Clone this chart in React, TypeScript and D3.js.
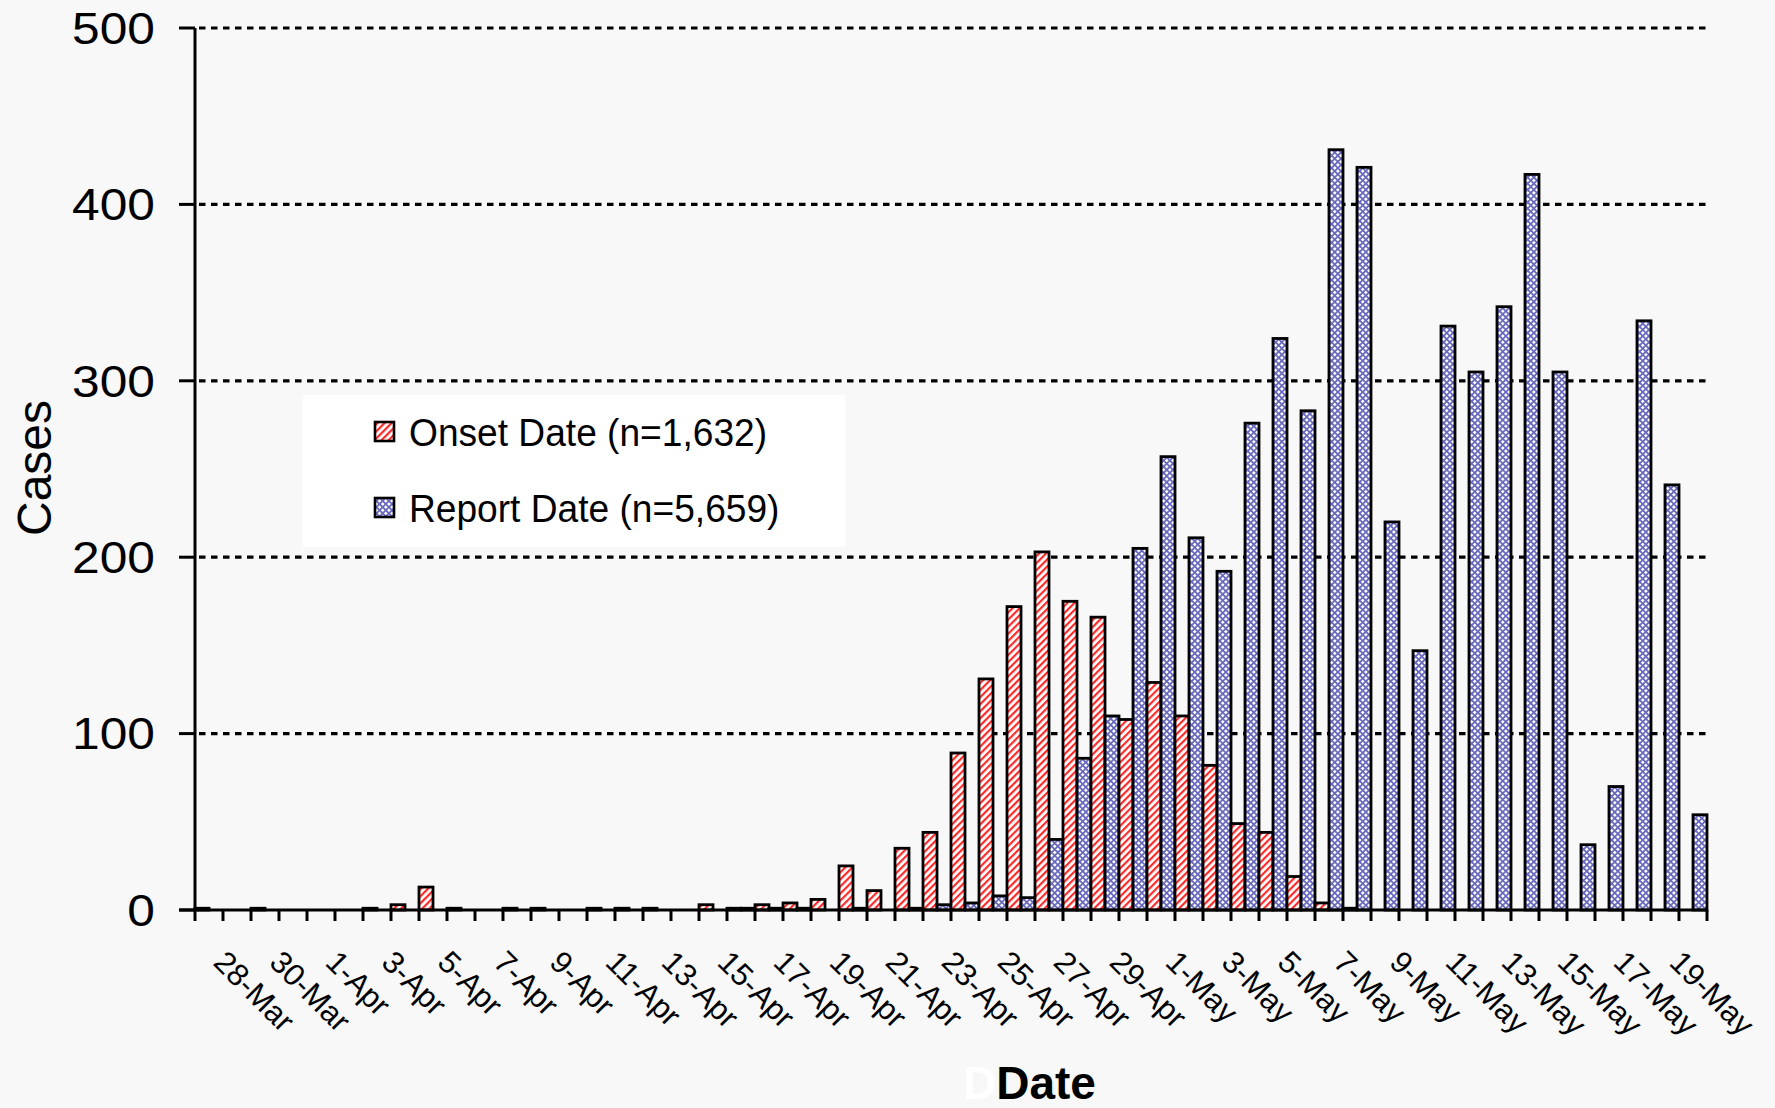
import React from "react";
import * as d3 from "d3";

const dates = [
  "27-Mar","28-Mar","29-Mar","30-Mar","31-Mar",
  "1-Apr","2-Apr","3-Apr","4-Apr","5-Apr","6-Apr","7-Apr","8-Apr","9-Apr","10-Apr",
  "11-Apr","12-Apr","13-Apr","14-Apr","15-Apr","16-Apr","17-Apr","18-Apr","19-Apr","20-Apr",
  "21-Apr","22-Apr","23-Apr","24-Apr","25-Apr","26-Apr","27-Apr","28-Apr","29-Apr","30-Apr",
  "1-May","2-May","3-May","4-May","5-May","6-May","7-May","8-May","9-May","10-May",
  "11-May","12-May","13-May","14-May","15-May","16-May","17-May","18-May","19-May",
];

const onset = [
  1,0,1,0,0,
  0,1,3,13,1,0,1,1,0,1,
  1,1,0,3,1,3,4,6,25,11,
  35,44,89,131,172,203,175,166,108,129,
  110,82,49,44,19,4,1,0,0,0,
  0,0,0,0,0,0,0,0,0,
];

const report = [
  0,0,0,0,0,
  0,0,0,0,0,0,0,0,0,0,
  0,0,0,0,1,1,1,0,1,0,
  1,3,4,8,7,40,86,110,205,257,
  211,192,276,324,283,431,421,220,147,331,
  305,342,417,305,37,70,334,241,54,
];

const yTicks = [0, 100, 200, 300, 400, 500];
const labelDates = dates.filter((_, i) => i % 2 === 1);
const seriesNames = ["Onset Date (n=1,632)", "Report Date (n=5,659)"];

const W = 1775;
const H = 1108;
const FONT = "'Liberation Sans', Arial, Helvetica, sans-serif";

export default function App() {
  const x = d3.scaleBand<string>().domain(dates).range([195, 1707]).padding(0);
  const y = d3.scaleLinear().domain([0, 500]).range([910, 28]);
  const bw = x.bandwidth();
  const half = bw / 2;

  const fills = ["url(#hatchRed)", "url(#crossBlue)"];

  return (
    <svg
      width={W}
      height={H}
      style={{ position: "fixed", left: 0, top: 0 }}
      fontFamily={FONT}
    >
      <defs>
        <pattern id="hatchRed" patternUnits="userSpaceOnUse" width="5" height="5" patternTransform="rotate(45)">
          <rect width="5" height="5" fill="#ffffff" />
          <rect width="2.2" height="5" fill="#ff2a2a" />
        </pattern>
        <pattern id="crossBlue" patternUnits="userSpaceOnUse" width="4.4" height="4.4" patternTransform="rotate(45)">
          <rect width="4.4" height="4.4" fill="#6a6abd" />
          <rect x="0.9" y="0.9" width="2.6" height="2.6" fill="#ffffff" />
        </pattern>
      </defs>
      <rect width={W} height={H} fill="#f8f8f8" />

      {/* gridlines */}
      {yTicks.filter((t) => t > 0).map((t) => (
        <line
          key={"g" + t}
          x1={199}
          x2={1707}
          y1={y(t)}
          y2={y(t)}
          stroke="#000"
          strokeWidth={3.2}
          strokeDasharray="6.5 5.5"
        />
      ))}

      {/* bars */}
      {dates.map((d, i) => {
        const x0 = x(d)!;
        return (
          <g key={"b" + d}>
            {onset[i] > 0 && (
              <rect
                x={x0}
                y={y(onset[i])}
                width={half}
                height={y(0) - y(onset[i])}
                fill={fills[0]}
                stroke="#000"
                strokeWidth={2.8}
              />
            )}
            {report[i] > 0 && (
              <rect
                x={x0 + half}
                y={y(report[i])}
                width={half}
                height={y(0) - y(report[i])}
                fill={fills[1]}
                stroke="#000"
                strokeWidth={2.8}
              />
            )}
          </g>
        );
      })}

      {/* axes */}
      <line x1={195} x2={195} y1={y(500)} y2={y(0)} stroke="#000" strokeWidth={3} />
      <line x1={179} x2={1707} y1={y(0)} y2={y(0)} stroke="#000" strokeWidth={3} />
      {yTicks.map((t) => (
        <g key={"yt" + t}>
          <line x1={179} x2={195} y1={y(t)} y2={y(t)} stroke="#000" strokeWidth={3} />
          <text
            transform={`translate(155,${y(t)}) scale(1.13,1)`}
            textAnchor="end"
            dy="0.36em"
            fontSize={44}
            fill="#000"
          >
            {t}
          </text>
        </g>
      ))}
      {dates.map((d) => (
        <line key={"xt" + d} x1={x(d)!} x2={x(d)!} y1={910} y2={921} stroke="#000" strokeWidth={3} />
      ))}
      <line x1={1707} x2={1707} y1={910} y2={921} stroke="#000" strokeWidth={3} />

      {labelDates.map((d) => {
        const cx = x(d)! + half;
        return (
          <text
            key={"xl" + d}
            transform={`translate(${cx - 25},${964}) rotate(45)`}
            fontSize={31}
            fill="#000"
          >
            {d}
          </text>
        );
      })}

      {/* axis titles */}
      <text transform="translate(51,468) rotate(-90)" textAnchor="middle" fontSize={48} fill="#000">
        Cases
      </text>
      <text x={963} y={1099} fontSize={46} fontWeight="bold" fill="#000">
        <tspan fill="#ffffff">D</tspan>
        <tspan>Date</tspan>
      </text>

      {/* legend */}
      <rect x={303} y={395} width={542} height={152} fill="#ffffff" />
      {seriesNames.map((name, i) => (
        <g key={"lg" + i}>
          <rect
            x={375}
            y={422 + i * 76}
            width={19}
            height={19}
            fill={fills[i]}
            stroke="#000"
            strokeWidth={2.6}
          />
          <text
            transform={`translate(409,${446 + i * 76}) scale(0.94,1)`}
            fontSize={39.5}
            fill="#000"
          >
            {name}
          </text>
        </g>
      ))}
    </svg>
  );
}
